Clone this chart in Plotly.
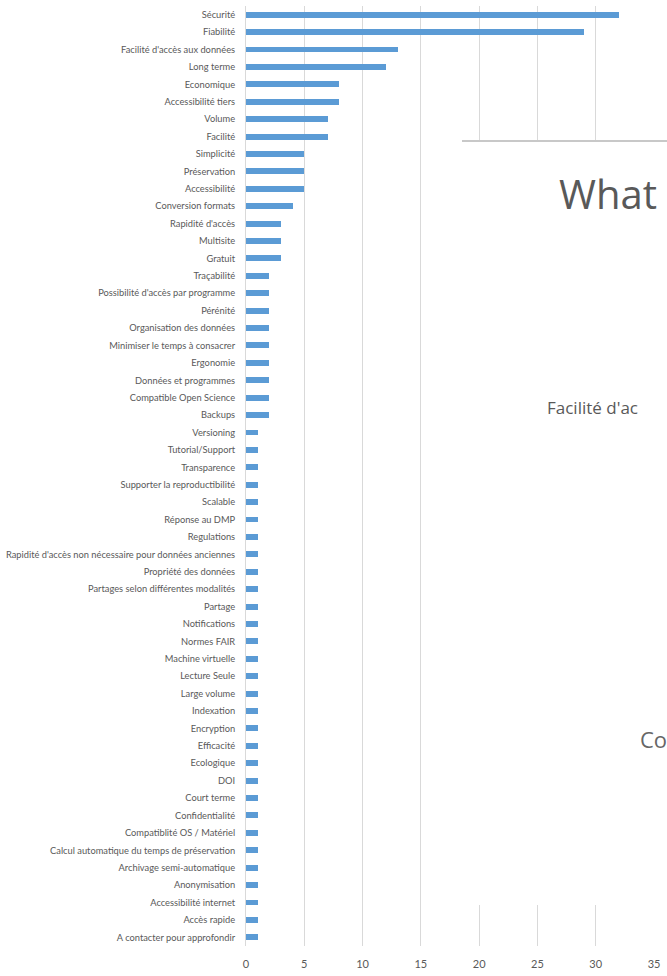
import plotly.graph_objects as go

categories = [
    "Sécurité", "Fiabilité", "Facilité d'accès aux données", "Long terme", "Economique",
    "Accessibilité tiers", "Volume", "Facilité", "Simplicité", "Préservation",
    "Accessibilité", "Conversion formats", "Rapidité d'accès", "Multisite", "Gratuit",
    "Traçabilité", "Possibilité d'accès par programme", "Pérénité", "Organisation des données",
    "Minimiser le temps à consacrer", "Ergonomie", "Données et programmes",
    "Compatible Open Science", "Backups", "Versioning", "Tutorial/Support", "Transparence",
    "Supporter la reproductibilité", "Scalable", "Réponse au DMP", "Regulations",
    "Rapidité d'accès non nécessaire pour données anciennes", "Propriété des données",
    "Partages selon différentes modalités", "Partage", "Notifications", "Normes FAIR",
    "Machine virtuelle", "Lecture Seule", "Large volume", "Indexation", "Encryption",
    "Efficacité", "Ecologique", "DOI", "Court terme", "Confidentialité",
    "Compatiblité OS / Matériel", "Calcul automatique du temps de préservation",
    "Archivage semi-automatique", "Anonymisation", "Accessibilité internet", "Accès rapide",
    "A contacter pour approfondir",
]
values = [
    32, 29, 13, 12, 8, 8, 7, 7, 5, 5, 5, 4, 3, 3, 3,
    2, 2, 2, 2, 2, 2, 2, 2, 2,
    1, 1, 1, 1, 1, 1, 1, 1, 1, 1, 1, 1, 1, 1, 1, 1, 1, 1,
    1, 1, 1, 1, 1, 1, 1, 1, 1, 1, 1, 1,
]
x_ticks = [0, 5, 10, 15, 20, 25, 30, 35]
overlay_texts = ["What", "Facilité d'ac", "Co"]

W, H = 667, 976
ML, MR, MT, MB = 246, 13, 6, 30
PW, PH = W - ML - MR, H - MT - MB

def px_x(p):
    return (p - ML) / PW

def px_y(p):
    return (H - MB - p) / PH

LABEL_FONT = "Lato, Liberation Sans Narrow, sans-serif"
TITLE_FONT = "Open Sans, sans-serif"

fig = go.Figure(go.Bar(
    x=values, y=categories, orientation="h",
    marker=dict(color="#5B9BD5", line=dict(width=0)),
    width=0.34,
))

fig.update_layout(
    width=W, height=H,
    margin=dict(l=ML, r=MR, t=MT, b=MB),
    paper_bgcolor="white", plot_bgcolor="white",
    showlegend=False,
    font=dict(family=LABEL_FONT, size=10, color="#595959"),
    bargap=0.0,
)
fig.update_xaxes(
    range=[0, 35], tickvals=x_ticks, showgrid=True, gridcolor="#d9d9d9", gridwidth=1,
    zeroline=False, showline=False, ticks="", tickfont=dict(size=11, color="#595959"),
    ticklabelstandoff=10, automargin=False,
)
fig.update_yaxes(
    categoryorder="array", categoryarray=categories, autorange="reversed",
    showgrid=False, zeroline=False, showline=True, linecolor="#d9d9d9", linewidth=1,
    ticks="", ticklabelstandoff=8, automargin=False,
    tickfont=dict(family=LABEL_FONT, size=9.3, color="#595959"),
)

# overlapping panel from another slide, partly visible on the right
fig.add_shape(type="rect", xref="paper", yref="paper",
              x0=px_x(462), x1=px_x(680), y0=px_y(905), y1=px_y(141),
              fillcolor="white", line=dict(width=0), layer="above")
fig.add_shape(type="line", xref="paper", yref="paper",
              x0=px_x(462), x1=px_x(680), y0=px_y(141), y1=px_y(141),
              line=dict(color="#c8c8c8", width=2), layer="above")

fig.add_annotation(text=overlay_texts[0], xref="paper", yref="paper",
                   x=px_x(557), y=px_y(194), xanchor="left", yanchor="middle",
                   showarrow=False, font=dict(family=TITLE_FONT, size=40, color="#595959"))
fig.add_annotation(text=overlay_texts[1], xref="paper", yref="paper",
                   x=px_x(545), y=px_y(407), xanchor="left", yanchor="middle",
                   showarrow=False, font=dict(family=TITLE_FONT, size=17, color="#595959"))
fig.add_annotation(text=overlay_texts[2], xref="paper", yref="paper",
                   x=px_x(638), y=px_y(739), xanchor="left", yanchor="middle",
                   showarrow=False, font=dict(family=TITLE_FONT, size=22, color="#666666"))

fig.write_html("out.html", config={"displayModeBar": False},
               post_script="document.body.style.margin='0';")
